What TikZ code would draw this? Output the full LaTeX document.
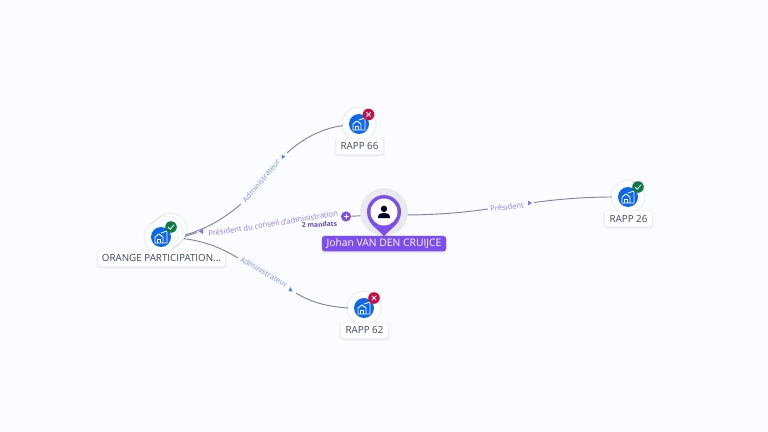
\documentclass[tikz,border=0pt]{standalone}
\usepackage{fontspec}
\setmainfont{Open Sans}
\usetikzlibrary{backgrounds,calc}
\definecolor{bgc}{HTML}{FBFCFF}
\definecolor{edgec}{HTML}{7F859F}
\definecolor{bluec}{HTML}{0B67EE}
\definecolor{purplec}{HTML}{7C4DF0}
\definecolor{greenc}{HTML}{0E7A45}
\definecolor{redc}{HTML}{CF0A3E}
\definecolor{inkc}{HTML}{3E4466}
\definecolor{labp}{HTML}{8F7CEB}
\definecolor{labb}{HTML}{7595EC}
\definecolor{manc}{HTML}{5B45C4}
\definecolor{halo}{HTML}{E9EAEC}
\tikzset{
  x=0.75pt,y=-0.75pt,
  edgeline/.style={draw=edgec,line width=0.7pt},
  namebox/.style={fill=white,rounded corners=2pt,text=inkc,font=\fontsize{7.35pt}{8pt}\selectfont,inner sep=0pt,minimum height=11.6pt},
  disc/.style={circle,fill=white,minimum size=24pt,inner sep=0pt},
  elabel/.style={font=\fontsize{5.7pt}{6pt}\selectfont,inner sep=0pt},
}
\newcommand{\houseicon}[1]{%
  \fill[bluec] (#1) circle (10);
  \draw[white,line width=0.7pt,line join=round] ($(#1)+(-6,6)$) -- ($(#1)+(-6,0)$) -- ($(#1)+(-2,-3)$) -- ($(#1)+(2,0)$) -- ($(#1)+(2,6)$) -- cycle;
  \draw[white,line width=0.6pt] ($(#1)+(-3.5,6)$) -- ($(#1)+(-3.5,2)$) -- ($(#1)+(-0.5,2)$) -- ($(#1)+(-0.5,6)$);
  \draw[white,line width=0.7pt] ($(#1)+(0,-4)$) -- ($(#1)+(6,-6)$) -- ($(#1)+(6,6)$) -- ($(#1)+(2,6)$);
}
\newcommand{\okbadge}[1]{%
  \fill[greenc] (#1) circle (5.8);
  \draw[white,line width=0.6pt,line cap=round] ($(#1)+(-2.8,0.2)$) -- ($(#1)+(-0.8,2.2)$) -- ($(#1)+(3,-2.2)$);
}
\newcommand{\nobadge}[1]{%
  \fill[redc] (#1) circle (5.8);
  \draw[white,line width=0.6pt,line cap=round] ($(#1)+(-2.2,-2.2)$) -- ($(#1)+(2.2,2.2)$) ($(#1)+(-2.2,2.2)$) -- ($(#1)+(2.2,-2.2)$);
}
\newcommand{\softcircle}[1]{%
  \fill[black,opacity=0.025] (#1) circle (18);
  \fill[black,opacity=0.03] (#1) circle (17);
}
\newcommand{\softbox}[4]{%
  \fill[black,opacity=0.025,rounded corners=3pt] (#1-2,#2-1) rectangle (#3+2,#4+3);
  \fill[black,opacity=0.03,rounded corners=2pt] (#1-1,#2) rectangle (#3+1,#4+2);
}
\begin{document}
\begin{tikzpicture}
\useasboundingbox (0,0) rectangle (768,432);

% company discs
\softcircle{170,230}
\node[disc] at (170,230) {};
\softcircle{166,233}
\node[disc] at (166,233) {};
\softcircle{161,237}
\node[disc] (org) at (161,237) {};
\houseicon{161,237}
\okbadge{171,227}

\softcircle{359,124}
\node[disc] (r66) at (359,124) {};
\houseicon{359,124}
\nobadge{368.5,114.5}

\softcircle{364,308}
\node[disc] (r62) at (364,308) {};
\houseicon{364,308}
\nobadge{374,298}

\softcircle{628,197}
\node[disc] (r26) at (628,197) {};
\houseicon{628,197}
\okbadge{638,187}

% person pin
\fill[halo] (384,212) circle (24);
\node[circle,minimum size=24pt,inner sep=0pt] (johan) at (384,212) {};
\fill[purplec] (384,236.5) .. controls (380,230) and (367,225) .. (367,212)
  arc[start angle=180,end angle=360,radius=17]
  .. controls (401,225) and (388,230) .. (384,236.5) -- cycle;
\fill[white] (384,212) circle (13.5);
\fill[black!85!blue] (384,208.8) circle (3.2);
\fill[black!85!blue] (378,218) .. controls (378,213.5) and (381,213) .. (384,213) .. controls (387,213) and (390,213.5) .. (390,218) -- cycle;

% name labels
\softbox{98}{250.5}{225}{266}
\node[namebox,minimum width=95.2pt] (lorg) at (161.5,258.2) {ORANGE PARTICIPATION...};
\softbox{336}{138.5}{383}{154}
\node[namebox,minimum width=35.2pt] (l66) at (359.5,146.2) {RAPP 66};
\softbox{341}{322.5}{388}{338}
\node[namebox,minimum width=35.2pt] (l62) at (364.5,330.2) {RAPP 62};
\softbox{605}{211}{652}{226}
\node[namebox,minimum width=35.2pt] (l26) at (628.5,218.5) {RAPP 26};
\softbox{322}{236}{446}{251}
\node[namebox,fill=purplec,text=white,minimum width=93pt,font=\fontsize{7.75pt}{8pt}\selectfont] (ljohan) at (384,243.7) {Johan VAN DEN CRUIJCE};

% plus button
\node[circle,fill=purplec,minimum size=7.6pt,inner sep=0pt] (plus) at (346,216.5) {};
\draw[white,line width=0.7pt] (343.5,216.5) -- (348.5,216.5) (346,214) -- (346,219);

% anchors for the free ends of the connectors
\coordinate (o1) at (183,235.5);
\coordinate (o2) at (183,237);
\coordinate (o3) at (183,238.5);
\coordinate (e66) at (345,125.5);
\coordinate (e62) at (349,308);
\coordinate (e26) at (613,197);
\coordinate (jl) at (367,215.5);
\coordinate (jr) at (400,215);
\coordinate (g1a) at (241,204);
\coordinate (g1b) at (287,153);
\coordinate (g2a) at (238,258);
\coordinate (g2b) at (296,293);
\coordinate (g3a) at (197,232.5);
\coordinate (g4a) at (488,209);
\coordinate (g4b) at (534,202.5);

\begin{scope}[on background layer]
\fill[bgc] (0,0) rectangle (768,432);
\draw[edgeline] (o1) .. controls (205,230) and (225,218) .. (g1a);
\draw[edgeline] (g1b) .. controls (303,138) and (325,127) .. (e66);
\draw[edgeline] (o3) .. controls (203,241) and (220,247) .. (g2a);
\draw[edgeline] (g2b) .. controls (312,303) and (330,307) .. (e62);
\draw[edgeline] (o2) -- (g3a);
\draw[edgeline] (plus) -- (jl);
\draw[edgeline] (jr) .. controls (435,215) and (460,213) .. (g4a);
\draw[edgeline] (g4b) .. controls (560,199) and (585,197) .. (e26);
\end{scope}

% edge labels
\node[elabel,text=labb,rotate=50] (a1) at (261,181) {Administrateur};
\node[elabel,text=labb,rotate=-30] (a2) at (264,272) {Administrateur};
\node[elabel,text=labp,rotate=9] (a3) at (273,223.5) {Président du conseil d'administration};
\node[elabel,text=labp,rotate=7] (a4) at (507,207) {Président};
\node[rotate=3,font=\bfseries\fontsize{5pt}{6pt}\selectfont,text=manc,inner sep=0pt] (mand) at (319.5,224.5) {2 mandats};
\fill[labb!60!bluec] (282,159) -- (281.5,155) -- (285.5,156) -- cycle;
\fill[labb!60!bluec] (292.5,291.5) -- (288.5,291) -- (290.5,287) -- cycle;
\fill[labp!85!bluec] (199,231.5) -- (203,228.5) -- (203,234) -- cycle;
\fill[labp!85!bluec] (532,203) -- (528,200.5) -- (528,205.5) -- cycle;
\end{tikzpicture}
\end{document}
